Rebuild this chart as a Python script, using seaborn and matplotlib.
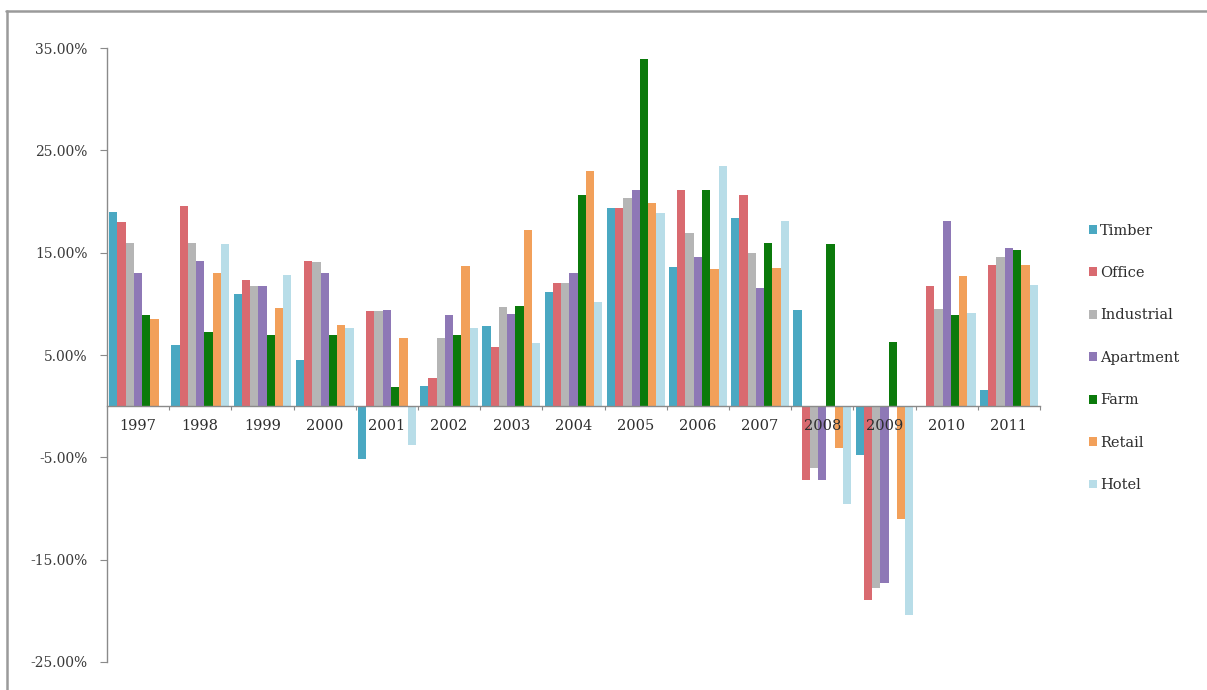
import numpy as np
import pandas as pd
import matplotlib
matplotlib.use("Agg")
import matplotlib.pyplot as plt
from matplotlib.lines import Line2D
import seaborn as sns

years = ["1997", "1998", "1999", "2000", "2001", "2002", "2003", "2004",
         "2005", "2006", "2007", "2008", "2009", "2010", "2011"]
sectors = ["Timber", "Office", "Industrial", "Apartment", "Farm", "Retail", "Hotel"]

# annual returns, percent
timber     = [19.0,  6.0, 11.0,  4.5, -5.2,  2.0,  7.8, 11.2, 19.4, 13.6, 18.4,  9.4, -4.8,  0.0,  1.6]
office     = [18.0, 19.6, 12.3, 14.2,  9.3,  2.8,  5.8, 12.0, 19.4, 21.1, 20.6, -7.2, -18.9, 11.7, 13.8]
industrial = [15.9, 15.9, 11.7, 14.1,  9.3,  6.7,  9.7, 12.0, 20.3, 16.9, 15.0, -6.0, -17.8,  9.5, 14.6]
apartment  = [13.0, 14.2, 11.7, 13.0,  9.4,  8.9,  9.0, 13.0, 21.1, 14.6, 11.5, -7.2, -17.3, 18.1, 15.5]
farm       = [ 8.9,  7.2,  7.0,  7.0,  1.9,  7.0,  9.8, 20.6, 33.9, 21.1, 15.9, 15.8,  6.3,  8.9, 15.3]
retail     = [ 8.5, 13.0,  9.6,  7.9,  6.7, 13.7, 17.2, 23.0, 19.9, 13.4, 13.5, -4.1, -11.0, 12.7, 13.8]
hotel      = [ 0.0, 15.8, 12.8,  7.6, -3.8,  7.6,  6.2, 10.2, 18.9, 23.5, 18.1, -9.6, -20.4,  9.1, 11.8]

colors = ["#4aa8c2", "#d96a70", "#b5b5b5", "#8e78b6", "#0b7a0b", "#f2a05a", "#b8dde8"]

series = [timber, office, industrial, apartment, farm, retail, hotel]
df = pd.DataFrame(
    [(y, s, v) for s, vals in zip(sectors, series) for y, v in zip(years, vals)],
    columns=["Year", "Sector", "Return"],
)

sns.set_theme(style="white")
plt.rcParams["font.family"] = ["DejaVu Serif"]

fig = plt.figure(figsize=(12.07, 6.90), dpi=100)
ax = fig.add_axes([0.0886, 0.0406, 0.773, 0.8898])

sns.barplot(data=df, x="Year", y="Return", hue="Sector", order=years,
            hue_order=sectors, palette=colors, width=0.93, saturation=1,
            linewidth=0, ax=ax, legend=True)

ax.set_ylim(-25, 35)
ax.set_xlim(-0.5, len(years) - 0.5)
ax.set_yticks(np.arange(-25, 36, 10))
ax.set_yticklabels([f"{t:.2f}%" for t in np.arange(-25, 36, 10)])
ax.set_xlabel("")
ax.set_ylabel("")
# year labels sit on top of the negative bars
ax.set_axisbelow(False)

# axis styling: x axis at zero, y spine on the left
for side in ["top", "right"]:
    ax.spines[side].set_visible(False)
ax.spines["bottom"].set_position(("data", 0))
ax.spines["bottom"].set_color("#8a8a8a")
ax.spines["left"].set_color("#8a8a8a")
ax.spines["bottom"].set_linewidth(1.0)
ax.spines["left"].set_linewidth(1.0)

ax.set_xticks(range(len(years)))
ax.set_xticklabels(years)
ax.set_xticks(np.arange(0.5, len(years), 1.0), minor=True)
ax.tick_params(axis="x", which="major", length=0, pad=9, labelsize=10.5,
               labelcolor="#2e2e2e")
ax.tick_params(axis="x", which="minor", bottom=True, length=3, width=0.8,
               color="#8a8a8a", direction="out")
ax.tick_params(axis="y", which="major", left=True, length=5, width=0.8,
               color="#8a8a8a", direction="out", pad=9, labelsize=10,
               labelcolor="#3a3a3a")

# legend to the right
handles, labels = ax.get_legend_handles_labels()
ax.legend_.remove()
fig.legend(handles, labels, loc="upper left", bbox_to_anchor=(0.891, 0.695),
           frameon=False, fontsize=10.5, handlelength=0.55, handleheight=0.55,
           handletextpad=0.25, labelspacing=1.95, labelcolor="#2e2e2e")

# thin frame along the top and left edge of the figure
fig.add_artist(Line2D([0.005, 1.0], [0.984, 0.984], transform=fig.transFigure,
                      color="#9a9a9a", linewidth=1.8))
fig.add_artist(Line2D([0.0055, 0.0055], [0.0, 0.984], transform=fig.transFigure,
                      color="#9a9a9a", linewidth=1.8))

fig.savefig("out.png", dpi=100, facecolor="white")
